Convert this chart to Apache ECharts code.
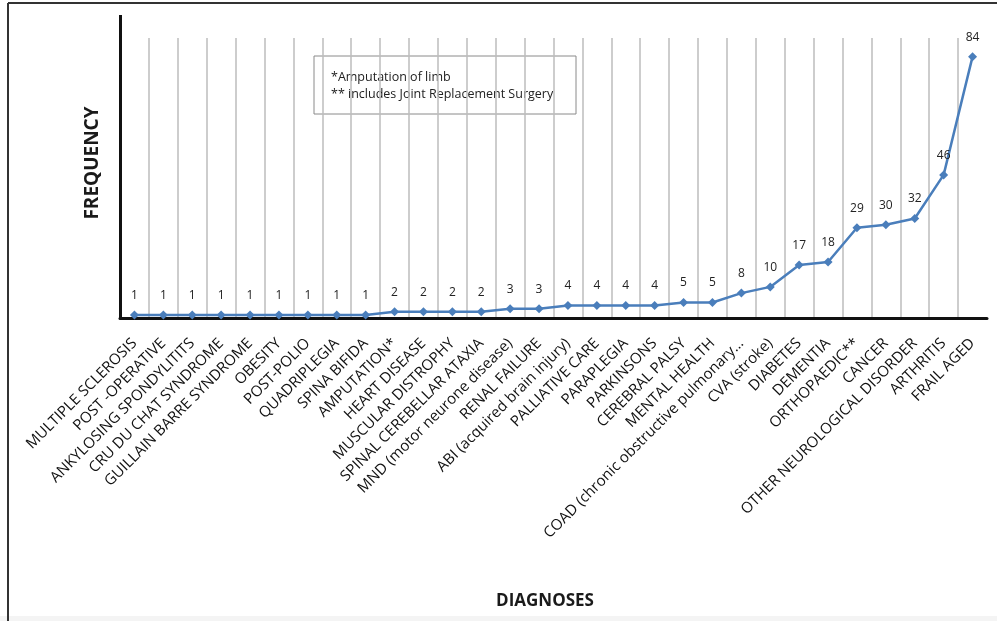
<!DOCTYPE html>
<html>
<head>
<meta charset="utf-8">
<style>
  html, body { margin: 0; padding: 0; background: #fff; }
  #chart { width: 997px; height: 621px; }
</style>
<script src="https://cdn.jsdelivr.net/npm/echarts@6/dist/echarts.min.js"></script>
</head>
<body>
<div id="chart"></div>
<script>
// Diagnoses, ordered by frequency
const diagnoses = [
  'MULTIPLE SCLEROSIS', 'POST -OPERATIVE', 'ANKYLOSING SPONDYLITITS',
  'CRU DU CHAT SYNDROME', 'GUILLAIN BARRE SYNDROME', 'OBESITY', 'POST-POLIO',
  'QUADRIPLEGIA', 'SPINA BIFIDA', 'AMPUTATION*', 'HEART DISEASE',
  'MUSCULAR DISTROPHY', 'SPINAL CEREBELLAR ATAXIA', 'MND (motor neurone disease)',
  'RENAL FAILURE', 'ABI (acquired brain injury)', 'PALLIATIVE CARE', 'PARAPLEGIA',
  'PARKINSONS', 'CEREBRAL PALSY', 'MENTAL HEALTH',
  'COAD (chronic obstructive pulmonary…', 'CVA (stroke)', 'DIABETES', 'DEMENTIA',
  'ORTHOPAEDIC**', 'CANCER', 'OTHER NEUROLOGICAL DISORDER', 'ARTHRITIS', 'FRAIL AGED'
];
const frequency = [
  1, 1, 1, 1, 1, 1, 1, 1, 1, 2, 2, 2, 2, 3, 3, 4, 4, 4, 4, 5, 5,
  8, 10, 17, 18, 29, 30, 32, 46, 84
];
const footnotes = ['*Amputation of limb', '** includes Joint Replacement Surgery'];

const FONT = '"Open Sans", "Noto Sans", sans-serif';
const chart = echarts.init(document.getElementById('chart'), null, { renderer: 'canvas' });

chart.setOption({
  backgroundColor: '#ffffff',
  animation: false,
  grid: { left: 120, right: 10, top: 38, bottom: 303, containLabel: false },
  title: {
    text: 'DIAGNOSES',
    left: 540, top: 588,
    textAlign: 'center',
    textStyle: { fontFamily: FONT, fontSize: 17, fontWeight: 'bold', color: '#1a1a1a' }
  },
  xAxis: {
    type: 'category',
    data: diagnoses,
    boundaryGap: true,
    axisLine: { show: true, lineStyle: { color: '#111', width: 3 } },
    axisTick: { show: false },
    axisLabel: {
      interval: 0, rotate: 45, margin: 23,
      fontFamily: FONT, fontSize: 15, fontWeight: 500, color: '#111'
    },
    splitLine: {
      show: true, showMinLine: false, showMaxLine: false,
      lineStyle: { color: '#bdbdbd', width: 1.5 }
    }
  },
  yAxis: {
    type: 'value',
    min: 0, max: 90,
    axisLine: { show: true, lineStyle: { color: '#111', width: 3 } },
    axisTick: { show: false },
    axisLabel: { show: false },
    splitLine: { show: false }
  },
  series: [{
    type: 'line',
    data: frequency,
    symbol: 'diamond',
    symbolSize: 9,
    lineStyle: { color: '#4a7ebb', width: 2.5 },
    itemStyle: { color: '#4a7ebb' },
    label: {
      show: true, position: 'top', distance: 9,
      fontFamily: FONT, fontSize: 12, fontWeight: 500, color: '#222'
    },
    z: 5
  }],
  graphic: [
    // outer frame
    { type: 'line', shape: { x1: 8, y1: 3, x2: 997, y2: 3 }, style: { stroke: '#333', lineWidth: 2 } },
    { type: 'line', shape: { x1: 8, y1: 3, x2: 8, y2: 621 }, style: { stroke: '#333', lineWidth: 2 } },
    { type: 'rect', shape: { x: 0, y: 616, width: 997, height: 5 }, style: { fill: '#f4f4f4' }, z: -1 },
    // y axis extends above the plotting area
    { type: 'line', shape: { x1: 120.5, y1: 15, x2: 120.5, y2: 39 }, style: { stroke: '#111', lineWidth: 3 } },
    // vertical axis title
    {
      type: 'text', x: 93, y: 163, rotation: Math.PI / 2,
      style: {
        text: 'FREQUENCY', fontFamily: FONT, fontSize: 19, fontWeight: 'bold',
        fill: '#1a1a1a', align: 'center', verticalAlign: 'middle'
      }
    },
    // footnote box
    {
      type: 'group', z: 10,
      children: [
        { type: 'rect', shape: { x: 314, y: 56, width: 262, height: 58 },
          style: { fill: '#fff', stroke: '#8a8a8a', lineWidth: 1 } },
        { type: 'text', x: 331, y: 77,
          style: { text: footnotes[0], fontFamily: FONT, fontSize: 12.5, fill: '#222', verticalAlign: 'middle' } },
        { type: 'text', x: 331, y: 94,
          style: { text: footnotes[1], fontFamily: FONT, fontSize: 12.5, fill: '#222', verticalAlign: 'middle' } }
      ]
    }
  ]
});
</script>
</body>
</html>
